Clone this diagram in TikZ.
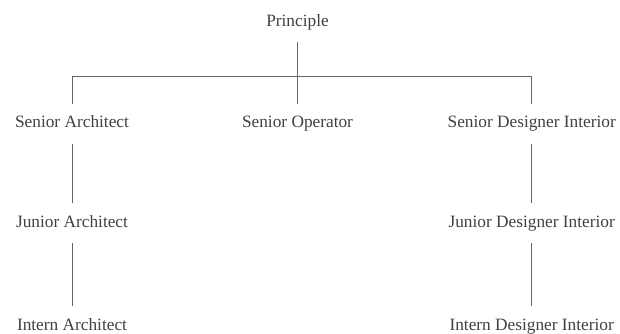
\documentclass[tikz,border=0pt]{standalone}
\usepackage{fontspec}
\setmainfont{Liberation Serif}
\begin{document}
\begin{tikzpicture}[x=1pt,y=1pt,
  role/.style={anchor=base, font=\fontsize{17.3}{20}\selectfont, text=black!75,
    text height=12pt, text depth=4pt, inner xsep=0pt, inner ysep=12pt, outer sep=0pt},
  link/.style={draw=black!60, line width=0.9pt}]
\useasboundingbox (0,0) rectangle (620,-333);
\node[role] (p)  at (297.5,-26)   {Principle};
\node[role] (sa) at (72,-127.5)   {Senior Architect};
\node[role] (so) at (297.5,-127.5){Senior Operator};
\node[role] (sd) at (531.7,-127.5){Senior Designer Interior};
\node[role] (ja) at (72,-227.3)   {Junior Architect};
\node[role] (jd) at (531.7,-227.3){Junior Designer Interior};
\node[role] (ia) at (72,-330)     {Intern Architect};
\node[role] (id) at (531.7,-330)  {Intern Designer Interior};
\coordinate (bar) at (297.5,-76.7);
\draw[link] (p.south) -- (so.north);
\draw[link] (sa.north) |- (bar) -| (sd.north);
\draw[link] (sa.south) -- (ja.north);
\draw[link] (ja.south) -- (ia.north);
\draw[link] (sd.south) -- (jd.north);
\draw[link] (jd.south) -- (id.north);
\end{tikzpicture}
\end{document}
